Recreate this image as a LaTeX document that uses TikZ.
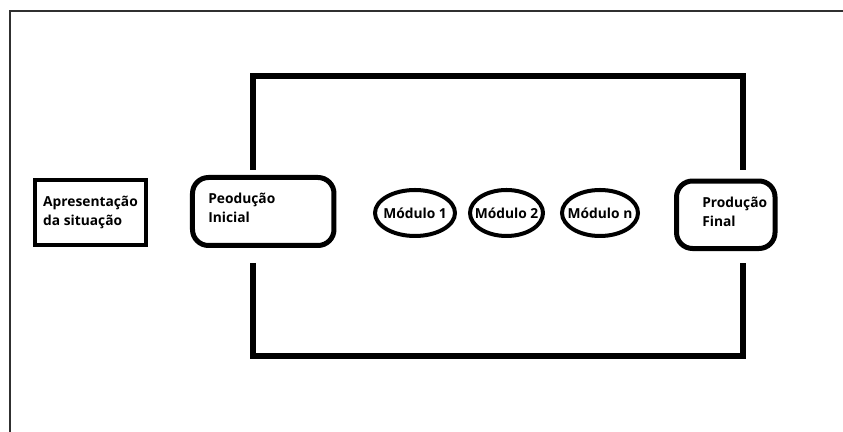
\documentclass[tikz,border=0pt]{standalone}
\usepackage{fontspec}
\setmainfont{Open Sans}
\usetikzlibrary{positioning, calc}
\definecolor{ink}{HTML}{000000}
\definecolor{framegray}{HTML}{303030}

\tikzset{
  lbl/.style={font=\fontsize{9.8}{13.2}\selectfont\bfseries, text=ink, inner sep=0pt, align=left},
  sqbox/.style={draw=ink, line width=2.85pt, minimum width=2.79cm, minimum height=1.625cm},
  rbox/.style={draw=ink, line width=3.56pt, rounded corners=0.4cm},
  ring/.style={draw=ink, line width=2.85pt},
  loopline/.style={draw=ink, line width=3.9pt}
}

\begin{document}
\begin{tikzpicture}

% Page: 843 x 432 px  ->  21.075 x 10.8 cm  (40 px per cm, y flipped)
\useasboundingbox (0,0) rectangle (21.075,10.8);

% Outer frame (only top and left edges show)
\draw[framegray, line width=1.4pt] (0.24,0) -- (0.24,10.52) -- (21.075,10.52);

% ================================================================
% Loop around the sequence: open at both ends, broken by the boxes
% ================================================================
\draw[loopline] (6.325,6.55) -- (6.325,8.9) -- (18.575,8.9) -- (18.575,6.55);
\draw[loopline] (6.325,4.225) -- (6.325,1.9) -- (18.575,1.9) -- (18.575,4.225);

% Start box
\node[sqbox, lbl] (apres) at (2.2625,5.495) {Apresentação\\da situação};

% First production (text sits to the left inside the box)
\node[rbox, minimum width=3.5375cm, minimum height=1.7cm] (inicial) at (6.581,5.5125) {};
\node[lbl, anchor=west] (inicialtxt) at ([xshift=0.45cm, yshift=0.09cm]inicial.west)
  {Peodução\\Inicial};

% Modules: ellipses drawn round their labels
\node[lbl] (mod1) at (10.375,5.475) {Módulo 1};
\draw[ring] (mod1.center) ellipse (1cm and 0.575cm);

\node[lbl] (mod2) at (12.6625,5.475) {Módulo 2};
\draw[ring] (mod2.center) ellipse (0.9125cm and 0.575cm);

\node[lbl] (modn) at (15.0,5.475) {Módulo n};
\draw[ring] (modn.center) ellipse (0.95cm and 0.575cm);

% Final production
\node[rbox, minimum width=2.4625cm, minimum height=1.6875cm] (final) at (18.144,5.431) {};
\node[lbl, anchor=west] (finaltxt) at ([xshift=0.7cm, yshift=0.075cm]final.west)
  {Produção\\Final};

\end{tikzpicture}
\end{document}
